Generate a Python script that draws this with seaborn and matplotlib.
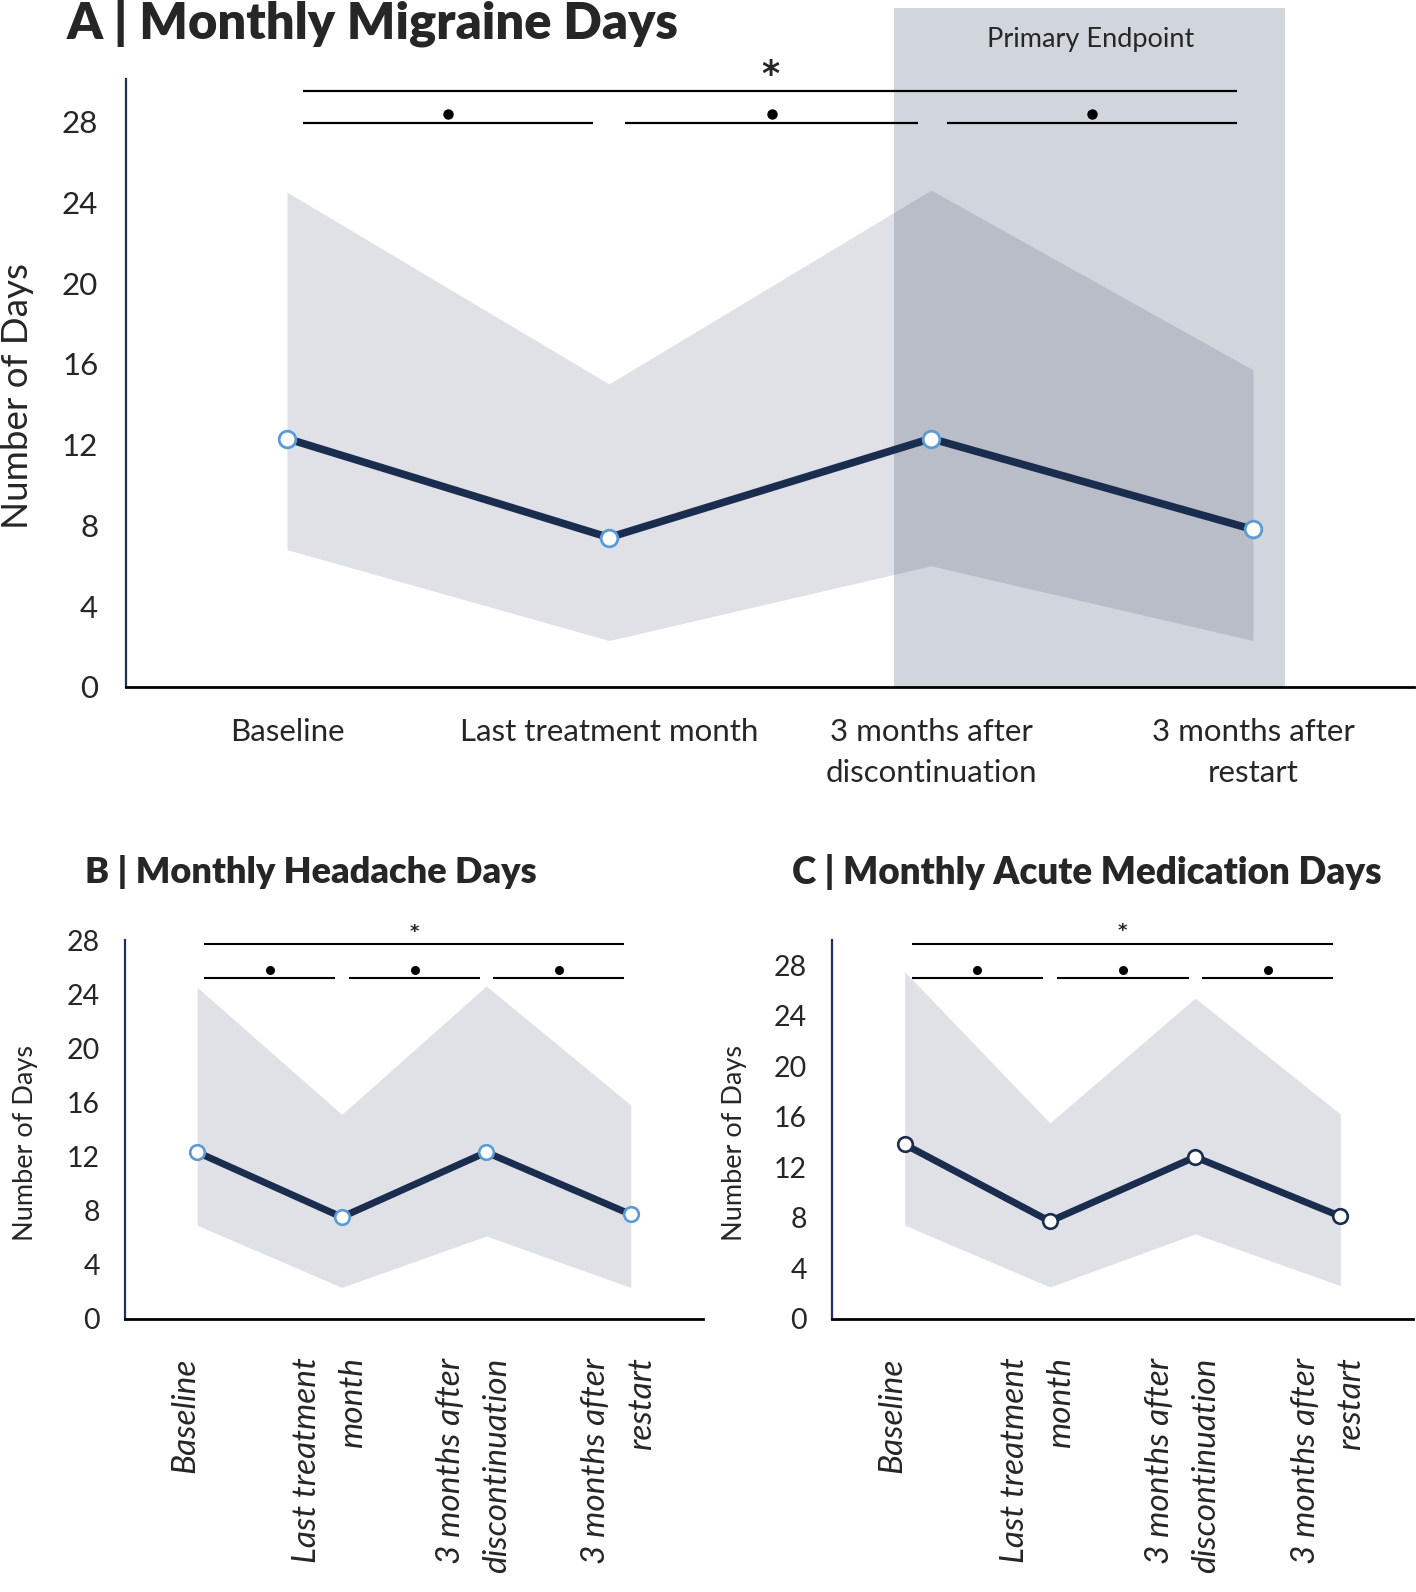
import numpy as np
import pandas as pd
import matplotlib
matplotlib.use("Agg")
import matplotlib.pyplot as plt
import matplotlib.transforms as mtransforms
import seaborn as sns

# ---------------- data ----------------
timepoints = ["Baseline", "Last treatment month",
              "3 months after\ndiscontinuation", "3 months after\nrestart"]
timepoints_rot = ["Baseline", "Last treatment\nmonth",
                  "3 months after\ndiscontinuation", "3 months after\nrestart"]

mmd_mean = [12.3, 7.4, 12.3, 7.8]
mmd_low = [6.8, 2.3, 6.0, 2.3]
mmd_high = [24.5, 15.0, 24.6, 15.7]

mhd_mean = [12.3, 7.5, 12.3, 7.7]
mhd_low = [6.9, 2.3, 6.1, 2.3]
mhd_high = [24.5, 15.1, 24.6, 15.8]

amd_mean = [13.8, 7.7, 12.8, 8.1]
amd_low = [7.4, 2.5, 6.7, 2.6]
amd_high = [27.5, 15.5, 25.4, 16.2]

y_ticks = [0, 4, 8, 12, 16, 20, 24, 28]

# ---------------- style ----------------
sns.set_theme(style="white")
plt.rcParams["font.family"] = ["Lato", "DejaVu Sans"]

NAVY = "#1b2d4f"
SPINE = "#1f3158"
BAND = "#2f3c5d"
RECT = "#d1d5dc"

fig = plt.figure(figsize=(14.16, 15.92), dpi=100)
W, H = 1416, 1592

def fx(px):
    return px / W

def fy(py):
    return 1 - py / H

axA = fig.add_axes([fx(126), fy(687), fx(1414 - 126), (687 - 79) / H])
axB = fig.add_axes([fx(125), fy(1318.5), fx(703 - 125), (1318.5 - 940) / H])
axC = fig.add_axes([fx(832), fy(1318.5), fx(1413 - 832), (1318.5 - 940) / H])


def draw(ax, mean, low, high, edge, ylim, ms, lw, mew):
    pos = np.arange(len(mean))
    df = pd.DataFrame({"pos": pos, "mean": mean})
    ax.fill_between(pos, low, high, color=BAND, alpha=0.154, lw=0, zorder=1)
    sns.lineplot(data=df, x="pos", y="mean", ax=ax, color=NAVY, lw=lw,
                 marker="o", markersize=ms, markerfacecolor="white",
                 markeredgecolor=edge, markeredgewidth=mew, errorbar=None,
                 zorder=5, clip_on=False)
    ax.set_xlim(-0.5, 3.5)
    ax.set_ylim(*ylim)
    ax.set_yticks(y_ticks)
    ax.set_xticks(pos)
    for s in ["top", "right"]:
        ax.spines[s].set_visible(False)
    ax.spines["left"].set_color(SPINE)
    ax.spines["left"].set_linewidth(1.6)
    ax.spines["bottom"].set_color("black")
    ax.spines["bottom"].set_linewidth(2.0)
    ax.tick_params(axis="y", length=0)
    ax.tick_params(axis="x", direction="in", length=6, width=1.4, color="black")
    ax.set_xlabel("")


def sig(ax, y_top, y_low, star_fs, dot_ms, lw, star_off, dot_off):
    kw = dict(color="black", lw=lw, clip_on=False, solid_capstyle="butt")
    ax.plot([0.05, 2.95], [y_top, y_top], **kw)
    ax.text(1.5, y_top + star_off, "*", ha="center", va="center",
            fontsize=star_fs, fontweight="bold", clip_on=False,
            family="DejaVu Sans")
    for a, b in [(0.05, 0.95), (1.05, 1.96), (2.05, 2.95)]:
        ax.plot([a, b], [y_low, y_low], **kw)
        ax.plot([(a + b) / 2], [y_low + dot_off], "o", color="black",
                ms=dot_ms, mew=0, clip_on=False)


def ylab(ax, fs, x, y):
    ax.set_ylabel("Number of Days", fontsize=fs)
    ax.yaxis.label.set_va("center")
    ax.yaxis.set_label_coords(x, y)


# ---------------- Panel A ----------------
axA.axvspan(1.886, 3.098, ymin=0, ymax=33.6 / 30.1, color=RECT, lw=0,
            zorder=0, clip_on=False)
draw(axA, mmd_mean, mmd_low, mmd_high, "#5b9bd5", (0, 30.1), 12, 5.5, 2.0)
axA.set_xticklabels(timepoints, fontsize=22.5, linespacing=1.6)
axA.tick_params(axis="x", pad=22)
axA.set_yticklabels([str(t) for t in y_ticks], fontsize=22.5)
axA.tick_params(axis="y", pad=20)
ylab(axA, 26.5, -0.0839, 0.479)
axA.text(2.495, 32.06, "Primary Endpoint", ha="center", va="center",
         fontsize=19.5, clip_on=False)
sig(axA, 29.5, 27.9, 25, 7.5, 1.6, 0.8, 0.45)

# ---------------- Panels B and C ----------------
shift = mtransforms.ScaledTranslation(-12 / 100, 0, fig.dpi_scale_trans)
for ax, mean, low, high, edge, ylim, ytop, ylow, lx, soff, doff in [
        (axB, mhd_mean, mhd_low, mhd_high, "#5b9bd5", (0, 28), 27.7, 25.2,
         -0.173, 0.9, 0.6),
        (axC, amd_mean, amd_low, amd_high, NAVY, (0, 30.0), 29.7, 27.0,
         -0.167, 1.0, 0.65)]:
    draw(ax, mean, low, high, edge, ylim, 10.5, 5.0, 1.9)
    ax.set_xticklabels(timepoints_rot, fontsize=24, rotation=90,
                       style="italic", va="top", ha="center",
                       multialignment="right", linespacing=1.65)
    ax.tick_params(axis="x", pad=28)
    for lbl in ax.get_xticklabels():
        lbl.set_transform(lbl.get_transform() + shift)
    ax.set_yticklabels([str(t) for t in y_ticks], fontsize=20.5)
    ax.tick_params(axis="y", pad=18)
    ylab(ax, 19.5, lx, 0.463)
    sig(ax, ytop, ylow, 13, 6.5, 1.5, soff, doff)

# ---------------- titles ----------------
fig.text(fx(67), fy(22), "A | Monthly Migraine Days", fontsize=36.5,
         fontweight="heavy", va="center", ha="left")
fig.text(fx(85), fy(872), "B | Monthly Headache Days", fontsize=26,
         fontweight="heavy", va="center", ha="left")
fig.text(fx(792), fy(872), "C | Monthly Acute Medication Days", fontsize=26.5,
         fontweight="heavy", va="center", ha="left")

fig.savefig("out.png", dpi=100)
